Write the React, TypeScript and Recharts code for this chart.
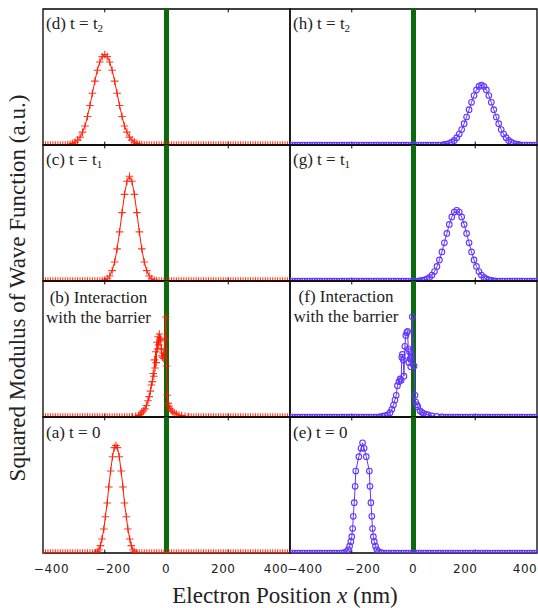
import React from 'react';
import { LineChart, Line, XAxis, YAxis, ReferenceLine, ReferenceArea } from 'recharts';

// ---------- data ----------
const baselineX = [
  -400, -392, -384, -376, -368, -360, -352, -344, -336, -328, -320, -312, -304, -296, -288, -280, -272,
  -264, -256, -248, -240, -232, -224, -216, -208, -200, -192, -184, -176, -168, -160, -152, -144, -136,
  -128, -120, -112, -104, -96, -88, -80, -72, -64, -56, -48, -40, -32, -24, -16, -8, 0, 8, 16, 24, 32,
  40, 48, 56, 64, 72, 80, 88, 96, 104, 112, 120, 128, 136, 144, 152, 160, 168, 176, 184, 192, 200, 208,
  216, 224, 232, 240, 248, 256, 264, 272, 280, 288, 296, 304, 312, 320, 328, 336, 344, 352, 360, 368,
  376, 384, 392, 400,
];

const xTicks = [-400, -200, 0, 200, 400];
const xTickLabels = ['−400', '−200', '0', '200', '400'];
const innerTicks = [-200, 200];

// (d) t = t2, red
const dX = [-320, -312, -304, -296, -288, -280, -272, -264, -256, -248, -240, -232, -224, -216, -208, -200,
  -192, -184, -176, -168, -160, -152, -144, -136, -128, -120, -112, -104, -96, -88, -80];
const dY = [0.003, 0.006, 0.012, 0.021, 0.036, 0.058, 0.095, 0.14, 0.21, 0.29, 0.38, 0.47, 0.55, 0.61, 0.65,
  0.665, 0.65, 0.61, 0.55, 0.47, 0.38, 0.29, 0.21, 0.14, 0.095, 0.058, 0.036, 0.021, 0.012, 0.006, 0.003];

// (c) t = t1, red
const cX = [-208, -200, -192, -184, -176, -168, -160, -152, -144, -136, -128, -120, -112, -104, -96, -88, -80,
  -72, -64, -56, -48, -40, -32];
const cY = [0.003, 0.007, 0.017, 0.037, 0.076, 0.14, 0.236, 0.361, 0.503, 0.637, 0.734, 0.77, 0.734, 0.637,
  0.503, 0.361, 0.236, 0.14, 0.076, 0.037, 0.017, 0.007, 0.003];

// (b) interaction with the barrier, red
const bX = [-110, -100, -90, -85, -80, -75, -70, -65, -60, -56, -52, -49, -46, -43, -41, -39, -37, -35, -33,
  -31, -29, -27, -25, -23, -21, -19, -17, -15, -13, -11, -9, -7, -5, -2, 0, 2, 5, 8, 11, 15, 19, 25, 32, 40,
  49, 60, 70];
const bY = [0.002, 0.005, 0.012, 0.02, 0.03, 0.045, 0.06, 0.085, 0.12, 0.15, 0.19, 0.235, 0.26, 0.32, 0.3,
  0.42, 0.36, 0.48, 0.4, 0.55, 0.5, 0.59, 0.53, 0.61, 0.56, 0.58, 0.5, 0.45, 0.44, 0.47, 0.43, 0.5, 0.57,
  0.735, 0.375, 0.16, 0.1, 0.08, 0.064, 0.05, 0.039, 0.03, 0.022, 0.015, 0.01, 0.005, 0.002];

// (a) t = 0, red
const aX = [-230, -224, -219, -214, -209, -203, -198, -192, -187, -181, -175, -169, -164, -159, -153, -147,
  -141, -136, -130, -125, -119, -114, -109, -104, -98];
const aY = [0.002, 0.008, 0.022, 0.054, 0.103, 0.176, 0.267, 0.368, 0.485, 0.603, 0.708, 0.775, 0.79, 0.775,
  0.708, 0.603, 0.485, 0.368, 0.267, 0.176, 0.103, 0.054, 0.022, 0.008, 0.002];

// (h) t = t2, blue
const hX = [100, 108, 116, 124, 132, 140, 148, 156, 164, 172, 180, 188, 196, 204, 212, 220, 228, 236, 244,
  252, 260, 268, 276, 284, 292, 300, 308, 316, 324, 332, 340];
const hY = [0.004, 0.007, 0.013, 0.021, 0.034, 0.054, 0.08, 0.114, 0.157, 0.206, 0.26, 0.314, 0.364, 0.405,
  0.431, 0.44, 0.431, 0.405, 0.364, 0.314, 0.26, 0.206, 0.157, 0.114, 0.08, 0.054, 0.034, 0.021, 0.013,
  0.007, 0.004];

// (g) t = t1, blue
const gX = [20, 28, 36, 44, 52, 60, 68, 76, 84, 92, 100, 108, 116, 124, 132, 140, 148, 156, 164, 172, 180,
  188, 196, 204, 212, 220, 228, 236, 244, 252, 260];
const gY = [0.002, 0.004, 0.008, 0.015, 0.026, 0.044, 0.07, 0.107, 0.155, 0.214, 0.281, 0.35, 0.416, 0.471,
  0.507, 0.52, 0.507, 0.471, 0.416, 0.35, 0.281, 0.214, 0.155, 0.107, 0.07, 0.044, 0.026, 0.015, 0.008,
  0.004, 0.002];

// (f) interaction with the barrier, blue
const fX = [-110, -100, -92, -84, -76, -70, -65, -60, -56, -52, -47, -43, -40, -38, -36, -33, -31, -28, -25,
  -22, -19, -17, -15, -13, -11, -9, -7, -4, 2, 5, 7, 11, 14, 21, 27, 32, 40, 48, 60, 75, 90];
const fY = [0.002, 0.006, 0.01, 0.015, 0.032, 0.057, 0.088, 0.125, 0.16, 0.23, 0.26, 0.28, 0.27, 0.44, 0.46,
  0.42, 0.3, 0.52, 0.6, 0.62, 0.63, 0.5, 0.4, 0.48, 0.43, 0.37, 0.45, 0.737, 0.375, 0.16, 0.11, 0.09, 0.076,
  0.046, 0.035, 0.027, 0.02, 0.015, 0.008, 0.004, 0.001];

// (e) t = 0, blue
const eX = [-225, -217, -211, -207, -203, -200, -197, -195, -192, -189, -187, -177, -170, -165, -160, -153,
  -143, -141, -138, -135, -133, -130, -127, -123, -119, -113, -105];
const eY = [0.003, 0.01, 0.025, 0.05, 0.083, 0.12, 0.18, 0.27, 0.37, 0.49, 0.603, 0.708, 0.77, 0.81, 0.77,
  0.708, 0.603, 0.49, 0.37, 0.27, 0.18, 0.12, 0.083, 0.05, 0.025, 0.01, 0.003];

// ---------- helpers ----------
type Pt = { x: number; y: number };
function buildSeries(segX: number[], segY: number[]): Pt[] {
  const lo = segX[0];
  const hi = segX[segX.length - 1];
  const left = baselineX.filter((x) => x < lo).map((x) => ({ x, y: 0 }));
  const seg = segX.map((x, i) => ({ x, y: segY[i] }));
  const right = baselineX.filter((x) => x > hi).map((x) => ({ x, y: 0 }));
  return [...left, ...seg, ...right];
}

const RED = '#ff1a00';
const BLUE = '#6236ff';
const GREEN = '#0b6a0b';
const SERIF = '"Liberation Serif", "Times New Roman", serif';

const PLOT_W = 247;
const PLOT_H = 136;
const AX_H = 30;
const COL_LEFT = [43, 290];
const ROW_TOP = [9, 145, 281, 417];

const labelDx = [
  [8.5, 8.25, -0.5, -5, -14],
  [15, 11, -0.5, -10, -12],
];

const PlusDot = (props: any) => {
  const { cx, cy, index } = props;
  if (cx == null || cy == null) return <g key={index} />;
  return (
    <path
      key={index}
      d={`M${cx - 3.8},${cy}h7.6M${cx},${cy - 3.8}v7.6`}
      stroke={RED}
      strokeOpacity={0.85}
      strokeWidth={1.1}
      fill="none"
    />
  );
};

const CircleDot = (props: any) => {
  const { cx, cy, index } = props;
  if (cx == null || cy == null) return <g key={index} />;
  return <circle key={index} cx={cx} cy={cy} r={2.8} stroke={BLUE} strokeWidth={1.1} fill="none" />;
};

const makeBottomTick = (col: number, showLabel: boolean) => (props: any) => {
  const { x, y, payload } = props;
  const v = payload.value;
  const idx = xTicks.indexOf(v);
  if (!showLabel || idx < 0) return <g />;
  return (
    <text
      x={x + labelDx[col][idx]}
      y={y + 20}
      textAnchor="middle"
      fontFamily='"DejaVu Sans", sans-serif'
      fontSize={12}
      letterSpacing={0.6}
      fill="#222"
    >
      {xTickLabels[idx]}
    </text>
  );
};

type Panel = {
  key: string;
  col: number;
  row: number;
  data: Pt[];
  marker: 'plus' | 'circle';
};

const panels: Panel[] = [
  { key: 'd', col: 0, row: 0, data: buildSeries(dX, dY), marker: 'plus' },
  { key: 'c', col: 0, row: 1, data: buildSeries(cX, cY), marker: 'plus' },
  { key: 'b', col: 0, row: 2, data: buildSeries(bX, bY), marker: 'plus' },
  { key: 'a', col: 0, row: 3, data: buildSeries(aX, aY), marker: 'plus' },
  { key: 'h', col: 1, row: 0, data: buildSeries(hX, hY), marker: 'circle' },
  { key: 'g', col: 1, row: 1, data: buildSeries(gX, gY), marker: 'circle' },
  { key: 'f', col: 1, row: 2, data: buildSeries(fX, fY), marker: 'circle' },
  { key: 'e', col: 1, row: 3, data: buildSeries(eX, eY), marker: 'circle' },
];

function PanelChart({ p }: { p: Panel }) {
  const color = p.marker === 'plus' ? RED : BLUE;
  return (
    <div style={{ position: 'absolute', left: COL_LEFT[p.col], top: ROW_TOP[p.row] }}>
      <LineChart width={PLOT_W} height={PLOT_H + AX_H} data={p.data} margin={{ top: 0, right: 0, bottom: 0, left: 0 }}>
        <XAxis
          dataKey="x"
          type="number"
          domain={[-400, 400]}
          allowDataOverflow
          ticks={xTicks}
          interval={0}
          height={AX_H}
          tickSize={0}
          tickMargin={0}
          axisLine={false}
          tickLine={false}
          tick={makeBottomTick(p.col, p.row === 3)}
        />
        <YAxis hide width={0} type="number" domain={[0, 1]} allowDataOverflow />
        <ReferenceArea x1={-400} x2={400} y1={0} y2={1} fill="none" stroke="#000" strokeWidth={1.3} ifOverflow="visible" />
        {innerTicks.map((v) => (
          <ReferenceLine key={`t${v}`} segment={[{ x: v, y: 1 }, { x: v, y: 0.975 }]} stroke="#000" strokeWidth={1} />
        ))}
        {innerTicks.map((v) => (
          <ReferenceLine key={`b${v}`} segment={[{ x: v, y: 0 }, { x: v, y: 0.025 }]} stroke="#000" strokeWidth={1} />
        ))}
        <ReferenceLine x={0} stroke={GREEN} strokeWidth={5} />
        <Line
          dataKey="y"
          type="linear"
          stroke={color}
          strokeWidth={1}
          dot={p.marker === 'plus' ? PlusDot : CircleDot}
          activeDot={false}
          isAnimationActive={false}
        />
      </LineChart>
    </div>
  );
}

const Sub = ({ children }: { children: React.ReactNode }) => (
  <tspan dy={3} fontSize={11}>
    {children}
  </tspan>
);

export default function App() {
  return (
    <div style={{ position: 'absolute', left: 0, top: 0, width: 538, height: 608, background: '#fff', overflow: 'hidden' }}>
      <style>{`.recharts-surface{overflow:visible}.recharts-wrapper{overflow:visible}`}</style>
      {panels.map((p) => (
        <PanelChart key={p.key} p={p} />
      ))}
      <svg
        width={538}
        height={608}
        style={{ position: 'absolute', left: 0, top: 0, pointerEvents: 'none' }}
        fontFamily={SERIF}
        fill="#222"
      >
        <g fontSize={17}>
          <text x={46} y={29}>(d) t = t<Sub>2</Sub></text>
          <text x={46} y={165}>(c) t = t<Sub>1</Sub></text>
          <text x={98.5} y={302.5} textAnchor="middle">(b) Interaction</text>
          <text x={98.5} y={323} textAnchor="middle">with the barrier</text>
          <text x={46} y={438}>(a) t = 0</text>
          <text x={293} y={29}>(h) t = t<Sub>2</Sub></text>
          <text x={293} y={165}>(g) t = t<Sub>1</Sub></text>
          <text x={346} y={302} textAnchor="middle">(f) Interaction</text>
          <text x={346} y={322} textAnchor="middle">with the barrier</text>
          <text x={293} y={438}>(e) t = 0</text>
        </g>
        <text x={285} y={603} textAnchor="middle" fontSize={23}>
          Electron Position <tspan fontStyle="italic">x</tspan> (nm)
        </text>
        <text transform="translate(25,288) rotate(-90)" textAnchor="middle" fontSize={23}>
          Squared Modulus of Wave Function (a.u.)
        </text>
      </svg>
    </div>
  );
}
